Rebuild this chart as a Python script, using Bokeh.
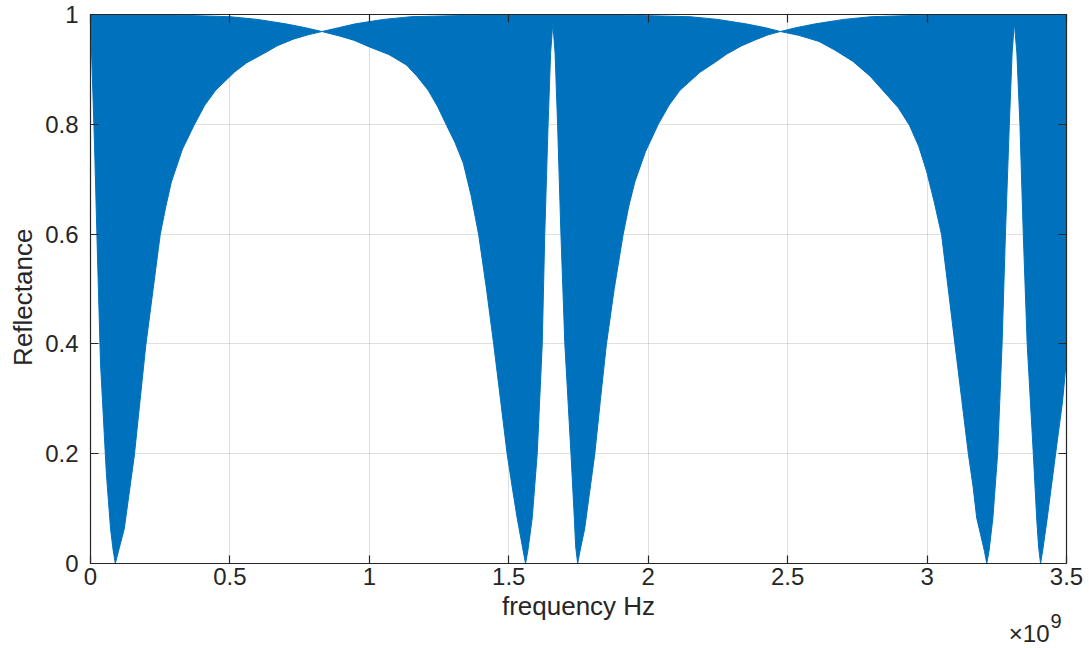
import numpy as np
from bokeh.plotting import figure
from bokeh.models import Range1d, FixedTicker, LinearAxis, Label, BoxAnnotation, Grid
from bokeh.embed import file_html
from bokeh.resources import INLINE

# frequency in units of 1e9 Hz (axis multiplier x10^9)
freq_lower = [0.000, 0.004, 0.0145, 0.025, 0.036, 0.057, 0.072, 0.081, 0.089, 0.100,
              0.121, 0.157, 0.198, 0.250, 0.270, 0.290, 0.330, 0.371, 0.410, 0.449, 0.516,
              0.560, 0.618, 0.670, 0.727, 0.780, 0.830,
              0.892, 0.945, 1.000, 1.070, 1.133, 1.170, 1.211, 1.245, 1.277, 1.307, 1.337,
              1.365, 1.392, 1.420, 1.446, 1.470, 1.494, 1.512, 1.530, 1.552, 1.560, 1.568,
              1.584, 1.602, 1.620, 1.629, 1.641, 1.650, 1.658,
              1.666, 1.675, 1.687, 1.701, 1.723, 1.735, 1.740, 1.747, 1.755,
              1.772, 1.808, 1.829, 1.850, 1.878, 1.910, 1.930, 1.952, 1.990, 2.036, 2.075,
              2.114, 2.186, 2.240, 2.282, 2.335, 2.390, 2.430, 2.474,
              2.540, 2.612, 2.670, 2.733, 2.795, 2.853, 2.897, 2.937, 2.970, 2.998, 3.025,
              3.052, 3.076, 3.100, 3.124, 3.148, 3.165, 3.178, 3.206, 3.214, 3.222,
              3.236, 3.253, 3.269, 3.281, 3.295, 3.305, 3.313,
              3.322, 3.333, 3.345, 3.359, 3.381, 3.393, 3.400, 3.407, 3.415,
              3.431, 3.461, 3.486, 3.500]
refl_lower = [0.975, 0.930, 0.762, 0.560, 0.363, 0.163, 0.063, 0.025, 0.000, 0.022,
              0.063, 0.196, 0.396, 0.599, 0.650, 0.695, 0.755, 0.798, 0.835, 0.862, 0.895,
              0.912, 0.928, 0.943, 0.955, 0.963, 0.969,
              0.961, 0.953, 0.941, 0.927, 0.908, 0.888, 0.862, 0.832, 0.798, 0.767, 0.729,
              0.670, 0.599, 0.500, 0.399, 0.300, 0.200, 0.140, 0.083, 0.022, 0.000, 0.022,
              0.083, 0.200, 0.400, 0.600, 0.800, 0.930, 0.985,
              0.930, 0.800, 0.600, 0.400, 0.200, 0.083, 0.030, 0.000, 0.022,
              0.063, 0.198, 0.300, 0.399, 0.500, 0.599, 0.650, 0.695, 0.750, 0.800, 0.835,
              0.862, 0.895, 0.913, 0.928, 0.943, 0.955, 0.963, 0.969,
              0.962, 0.951, 0.935, 0.915, 0.888, 0.855, 0.830, 0.798, 0.760, 0.715, 0.660,
              0.599, 0.500, 0.399, 0.300, 0.200, 0.140, 0.083, 0.022, 0.000, 0.022,
              0.083, 0.200, 0.400, 0.600, 0.800, 0.930, 0.985,
              0.930, 0.800, 0.600, 0.400, 0.200, 0.083, 0.030, 0.000, 0.025,
              0.083, 0.200, 0.296, 0.373]

freq_upper = [0.000, 0.300, 0.500, 0.600, 0.700, 0.770, 0.830, 0.890, 0.950, 1.050, 1.150,
              1.400, 1.650, 1.900, 2.150, 2.250, 2.350, 2.420, 2.474, 2.530, 2.600, 2.700,
              2.800, 3.000, 3.500]
refl_upper = [1.000, 0.999, 0.996, 0.991, 0.983, 0.976, 0.969, 0.976, 0.983, 0.991, 0.996,
              0.999, 1.000, 0.999, 0.996, 0.991, 0.983, 0.976, 0.969, 0.976, 0.983, 0.991,
              0.996, 0.999, 1.000]

x_ticks = [0, 0.5, 1, 1.5, 2, 2.5, 3, 3.5]
x_tick_labels = ["0", "0.5", "1", "1.5", "2", "2.5", "3", "3.5"]
y_ticks = [0, 0.2, 0.4, 0.6, 0.8, 1]
y_tick_labels = ["0", "0.2", "0.4", "0.6", "0.8", "1"]
X0, X1 = 0, 3.5
Y0, Y1 = 0, 1

FONT = "Liberation Sans"
TXT = "#262626"

# The frame covers the whole canvas; the axes are placed at the data limits
# (fixed_location) so that every text sits inside the frame and is not clipped.
PX_X = 976 / (X1 - X0)      # pixels per x unit
PX_Y = 549 / (Y1 - Y0)      # pixels per y unit
p = figure(width=1089, height=648, output_backend="svg", toolbar_location=None,
           x_range=Range1d(X0 - 90 / PX_X, X1 + 23 / PX_X),
           y_range=Range1d(Y0 - 85 / PX_Y, Y1 + 14 / PX_Y),
           min_border=0, background_fill_color="white", border_fill_color="white")
p.outline_line_color = None
p.title.visible = False

xs = list(freq_upper) + list(freq_lower[::-1])
ys = list(refl_upper) + list(refl_lower[::-1])
p.patch(xs, ys, fill_color="#0072BD", line_color="#0072BD", line_width=1)

xt = FixedTicker(ticks=x_ticks)
yt = FixedTicker(ticks=y_ticks)

def style(ax, labels, show):
    ax.axis_line_color = TXT
    ax.axis_line_width = 1.2
    ax.major_tick_line_color = TXT
    ax.major_tick_line_width = 1.2
    ax.major_tick_in = 8
    ax.major_tick_out = 0
    ax.minor_tick_line_color = None
    ax.major_label_text_font = FONT
    ax.major_label_text_color = TXT
    if show:
        ax.major_label_text_font_size = "24px"
        ax.major_label_overrides = {float(t): s for t, s in zip(labels[0], labels[1])}
    else:
        ax.major_label_text_font_size = "1px"
        ax.major_label_text_alpha = 0
        ax.major_label_standoff = 0

xa = p.xaxis[0]
ya = p.yaxis[0]
xa.ticker = xt
ya.ticker = yt
style(xa, (x_ticks, x_tick_labels), True)
style(ya, (y_ticks, y_tick_labels), True)
xa.fixed_location = Y0
xa.bounds = (X0, X1)
ya.fixed_location = X0
ya.bounds = (Y0, Y1)
xa.major_label_standoff = 4
ya.major_label_standoff = 12

top = LinearAxis(ticker=xt, fixed_location=Y1, bounds=(X0, X1))
style(top, None, False)
p.add_layout(top, "above")
right = LinearAxis(ticker=yt, fixed_location=X1, bounds=(Y0, Y1))
style(right, None, False)
p.add_layout(right, "right")

p.xgrid.ticker = xt
p.ygrid.ticker = yt
p.xgrid.bounds = (X0, X1)
p.ygrid.bounds = (Y0, Y1)
for g in (p.xgrid[0], p.ygrid[0]):
    g.grid_line_color = TXT
    g.grid_line_alpha = 0.15
    g.grid_line_width = 1
if "cross_bounds" in Grid.properties():
    p.xgrid.cross_bounds = (Y0, Y1)
    p.ygrid.cross_bounds = (X0, X1)
else:
    for kw in (dict(top=Y0), dict(bottom=Y1), dict(right=X0), dict(left=X1)):
        p.add_layout(BoxAnnotation(fill_color="white", fill_alpha=1, line_color=None,
                                   level="glyph", **kw))

# axis labels
p.add_layout(Label(x=(X0 + X1) / 2, y=Y0, text="frequency Hz", text_font=FONT,
                   text_font_size="26px", text_color=TXT, text_align="center",
                   text_baseline="middle", y_offset=-42))
p.add_layout(Label(x=X0, y=0.485, text="Reflectance", text_font=FONT,
                   text_font_size="26px", text_color=TXT, text_align="center",
                   text_baseline="middle", angle=np.pi / 2, x_offset=-68))

# axis multiplier "x10^9" at the lower right, below the tick labels
p.add_layout(Label(x=X1, y=Y0, text="\u00d710", text_font=FONT, text_font_size="24px",
                   text_color=TXT, text_align="right", text_baseline="middle",
                   x_offset=-17, y_offset=-70))
p.add_layout(Label(x=X1, y=Y0, text="9", text_font=FONT, text_font_size="20px",
                   text_color=TXT, text_align="left", text_baseline="middle",
                   x_offset=-16, y_offset=-57))

open("out.html", "w").write(file_html(p, INLINE))
